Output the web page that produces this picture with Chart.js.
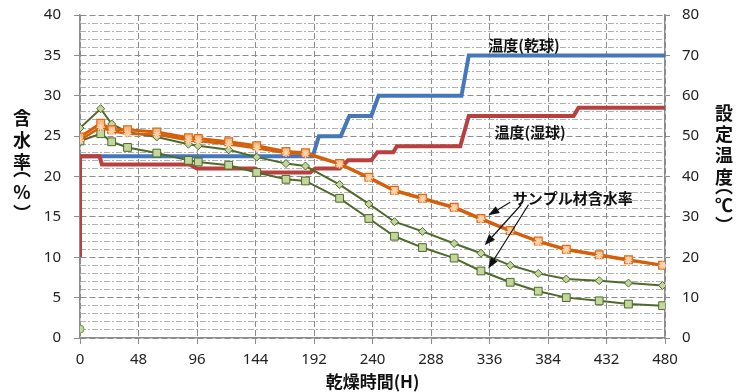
<!DOCTYPE html>
<html>
<head>
<meta charset="utf-8">
<script src="https://cdn.jsdelivr.net/npm/chart.js@4.4.1/dist/chart.umd.min.js"></script>
<style>
  html, body { margin: 0; padding: 0; background: #fff; }
  #wrap { width: 745px; height: 392px; }
</style>
</head>
<body>
<div id="wrap"><canvas id="chart" width="745" height="392"></canvas></div>
<script>
// --- data ---
const hours = [0, 17, 26, 39, 63, 89, 97, 122, 145, 169, 185, 213, 237, 258, 281, 307, 329, 353, 376, 399, 426, 450, 478];
const mcOrangeSquare = [24.9, 26.6, 25.8, 25.8, 25.5, 24.8, 24.7, 24.3, 23.8, 23.1, 22.95, 21.6, 19.9, 18.3, 17.3, 16.2, 14.8, 13.3, 12.0, 11.0, 10.3, 9.7, 9.0];
const mcOrangeStar = [24.5, 26.1, 25.6, 25.3, 25.2, 24.5, 24.4, 24.0, 23.5, 22.9, 22.8, 21.5, 19.8, 18.2, 17.2, 16.1, 14.7, 13.2, 11.9, 10.9, 10.2, 9.6, 9.0];
const mcGreenDiamond = [26.0, 28.4, 26.5, 25.5, 24.9, 24.0, 23.8, 23.3, 22.4, 21.6, 21.3, 19.0, 16.6, 14.4, 13.2, 11.7, 10.5, 9.0, 8.0, 7.3, 7.1, 6.8, 6.5];
const mcGreenSquare = [24.4, 25.3, 24.3, 23.6, 22.9, 22.0, 21.8, 21.4, 20.5, 19.65, 19.45, 17.3, 14.8, 12.6, 11.2, 9.9, 8.3, 6.9, 5.8, 5.0, 4.6, 4.2, 4.0];
const circleHours = [0];
const circleValues = [1.1];

const dryHours = [0, 191, 196, 214, 221, 239, 245, 313, 319, 480];
const dryTemp = [45, 45, 50, 50, 55, 55, 60, 60, 70, 70];
const wetHours = [0, 0, 16, 18, 90, 96, 144, 148, 189, 193, 213, 220, 239, 244, 257, 260, 312, 319, 405, 409, 480];
const wetTemp = [20, 45, 45, 43, 43, 42, 42, 41, 41, 42, 42, 44, 44, 46, 46, 47.5, 47.5, 55, 55, 57, 57];

const xTicks = [0, 48, 96, 144, 192, 240, 288, 336, 384, 432, 480];
const leftTitle = ['含', '水', '率', '︵', '%', '︶'];
const rightTitle = ['設', '定', '温', '度', '︵', '℃', '︶'];
const xTitle = '乾燥時間(H)';

// label texts placed in data units (hours, moisture %)
const notes = [
    { text: '温度(乾球)', x: 335, y: 36.3 },
    { text: '温度(湿球)', x: 340, y: 25.5 },
    { text: 'サンプル材含水率', x: 355, y: 17.3 }
];
const arrows = [
    { from: [353, 16.8], to: [335, 15.2] },
    { from: [362, 16.5], to: [332, 11.5] },
    { from: [368, 16.5], to: [335, 8.6] }
];

const FONT = '"Noto Sans", "Noto Sans CJK JP", sans-serif';
const CJK = '"Noto Sans CJK JP", sans-serif';
const GRID = '#8c8c8c';
const MINOR = '#b0b0b0';

const pts = (xs, ys) => xs.map((x, i) => ({ x: x, y: ys[i] }));

// pin the plot area: 15px above the top gridline, nothing extra below
const pinY = width => s => { s.width = width; s.paddingTop = 15; s.paddingBottom = 0; };

const textPlugin = {
    id: 'texts',
    afterDraw(chart) {
        const { ctx, scales: { x, y } } = chart;
        ctx.save();
        ctx.fillStyle = '#111';
        ctx.textBaseline = 'middle';

        // axis titles, one upright glyph per row
        ctx.textAlign = 'center';
        ctx.font = 'bold 18px ' + CJK;
        const ly = [118, 140, 162, 169, 192, 213];
        leftTitle.forEach((ch, i) => ctx.fillText(ch, 22, ly[i]));
        const ry = [113, 134, 155, 177, 186, 205, 225];
        rightTitle.forEach((ch, i) => ctx.fillText(ch, 724, ry[i]));
        ctx.font = 'bold 17px ' + CJK;
        ctx.fillText(xTitle, (chart.chartArea.left + chart.chartArea.right) / 2, 382);

        // notes
        ctx.textAlign = 'left';
        ctx.font = 'bold 15px ' + CJK;
        notes.forEach(n => ctx.fillText(n.text, x.getPixelForValue(n.x), y.getPixelForValue(n.y)));

        // arrows
        ctx.strokeStyle = '#111';
        ctx.lineWidth = 1.2;
        arrows.forEach(a => {
            const x1 = x.getPixelForValue(a.from[0]), y1 = y.getPixelForValue(a.from[1]);
            const x2 = x.getPixelForValue(a.to[0]), y2 = y.getPixelForValue(a.to[1]);
            const ang = Math.atan2(y2 - y1, x2 - x1);
            const len = 11, half = 4;
            const bx = x2 - Math.cos(ang) * len, by = y2 - Math.sin(ang) * len;
            ctx.beginPath();
            ctx.moveTo(x1, y1);
            ctx.lineTo(bx, by);
            ctx.stroke();
            ctx.beginPath();
            ctx.moveTo(x2, y2);
            ctx.lineTo(bx + Math.sin(ang) * half, by - Math.cos(ang) * half);
            ctx.lineTo(bx - Math.sin(ang) * half, by + Math.cos(ang) * half);
            ctx.closePath();
            ctx.fillStyle = '#111';
            ctx.fill();
        });
        ctx.restore();
    }
};

const greenLine = '#4f6a2a';
const greenFill = '#c3d69b';

new Chart(document.getElementById('chart'), {
    type: 'line',
    data: {
        datasets: [
            {
                label: 'orange square', data: pts(hours, mcOrangeSquare), yAxisID: 'y', order: 1,
                borderColor: '#d4600c', borderWidth: 3, pointStyle: 'rect', pointRadius: 5.5,
                pointBackgroundColor: '#f9b880', pointBorderColor: '#e06a14', pointBorderWidth: 1.2
            },
            {
                label: 'orange star', data: pts(hours, mcOrangeStar), yAxisID: 'y', order: 0,
                borderColor: '#d4600c', borderWidth: 2.5, pointStyle: 'star', pointRadius: 4,
                pointBorderColor: '#fbd3ad', pointBorderWidth: 1.5
            },
            {
                label: 'green diamond', data: pts(hours, mcGreenDiamond), yAxisID: 'y', order: 2,
                borderColor: greenLine, borderWidth: 2, pointStyle: 'rectRot', pointRadius: 4,
                pointBackgroundColor: greenFill, pointBorderColor: greenLine, pointBorderWidth: 1
            },
            {
                label: 'green square', data: pts(hours, mcGreenSquare), yAxisID: 'y', order: 3,
                borderColor: greenLine, borderWidth: 2, pointStyle: 'rect', pointRadius: 5.5,
                pointBackgroundColor: greenFill, pointBorderColor: greenLine, pointBorderWidth: 1
            },
            {
                label: 'circle', data: pts(circleHours, circleValues), yAxisID: 'y', order: 3,
                showLine: false, pointStyle: 'circle', pointRadius: 4,
                pointBackgroundColor: greenFill, pointBorderColor: '#7d9a45', pointBorderWidth: 1
            },
            {
                label: '温度(湿球)', data: pts(wetHours, wetTemp), yAxisID: 'y2', order: 5,
                borderColor: '#b8403f', borderWidth: 4, pointRadius: 0
            },
            {
                label: '温度(乾球)', data: pts(dryHours, dryTemp), yAxisID: 'y2', order: 6,
                borderColor: '#4677ba', borderWidth: 4, pointRadius: 0
            }
        ]
    },
    options: {
        responsive: false,
        animation: false,
        devicePixelRatio: 1,
        layout: { padding: 0 },
        plugins: { legend: { display: false }, tooltip: { enabled: false } },
        scales: {
            x: {
                type: 'linear', min: 0, max: 480, position: 'bottom',
                afterBuildTicks: s => { s.ticks = xTicks.map(v => ({ value: v })); },
                ticks: { color: '#222', font: { family: FONT, size: 15 }, padding: 7, maxRotation: 0, autoSkip: false },
                grid: { color: GRID, lineWidth: 1, tickLength: 6, tickColor: GRID },
                border: { display: true, color: GRID, width: 1.5, dash: [6, 3] },
                afterFit: s => { s.height = 54; }
            },
            y: {
                min: 0, max: 40, position: 'left',
                ticks: { stepSize: 5, color: '#222', font: { family: FONT, size: 15 }, padding: 13 },
                grid: { color: GRID, lineWidth: 1, tickLength: 6, tickColor: GRID },
                border: { display: true, color: GRID, width: 1.5, dash: [6, 3] },
                afterFit: pinY(80)
            },
            ym: {
                min: 0, max: 40, position: 'left',
                ticks: { stepSize: 1, display: false },
                grid: {
                    color: c => (c.tick && c.tick.value % 5 === 0) ? 'rgba(0,0,0,0)' : MINOR,
                    lineWidth: 1, drawTicks: false
                },
                border: { display: false, dash: [6, 2, 2, 2] },
                afterFit: pinY(0)
            },
            y2: {
                min: 0, max: 80, position: 'right',
                ticks: { stepSize: 10, color: '#222', font: { family: FONT, size: 15 }, padding: 12 },
                grid: { drawOnChartArea: false, tickLength: 5, tickColor: GRID },
                border: { display: true, color: GRID, width: 1.5 },
                afterFit: pinY(80)
            }
        }
    },
    plugins: [textPlugin]
});
</script>
</body>
</html>
